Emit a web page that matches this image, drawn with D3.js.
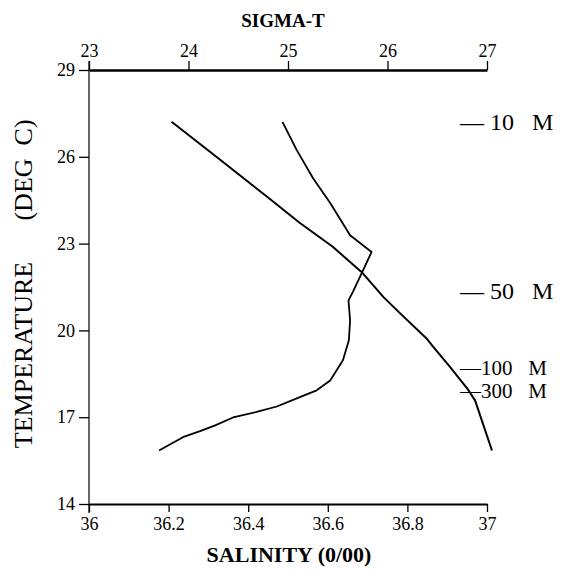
<!DOCTYPE html>
<html><head><meta charset="utf-8">
<script src="https://cdn.jsdelivr.net/npm/d3@7/dist/d3.min.js"></script>
<style>
html,body{margin:0;padding:0;background:#fff;}
svg{display:block;}
text{font-family:"Liberation Serif","Times New Roman",serif;fill:#000;}
</style></head>
<body>
<svg id="chart" width="566" height="581"></svg>
<script>
// ---- data ----
const sigmaTicks = [23, 24, 25, 26, 27];
const salinityTicks = [36, 36.2, 36.4, 36.6, 36.8, 37];
const tempTicks = [14, 17, 20, 23, 26, 29];

// sigma-t profile (sigma-t vs temperature)
const sigmaValues = [23.83, 24.28, 24.79, 25.12, 25.45, 25.75, 25.96, 26.13, 26.39, 26.46, 26.63, 26.80, 26.88, 27.05];
const sigmaTemps  = [27.21, 26.00, 24.62, 23.71, 22.89, 21.98, 21.15, 20.58, 19.73, 19.43, 18.73, 18.00, 17.58, 15.85];

// salinity profile (salinity vs temperature)
const salinityValues = [36.486, 36.522, 36.563, 36.606, 36.656, 36.710, 36.685, 36.663, 36.652, 36.656, 36.653, 36.638, 36.606, 36.572, 36.522, 36.472, 36.421, 36.362, 36.317, 36.279, 36.236, 36.176];
const salinityTemps  = [27.21, 26.23, 25.26, 24.40, 23.29, 22.71, 21.97, 21.33, 21.04, 20.35, 19.66, 18.97, 18.27, 17.93, 17.65, 17.37, 17.18, 16.99, 16.72, 16.52, 16.31, 15.85];

// depth markers
const depthLabels = ["\u2014 10   M", "\u2014 50   M", "\u2014100   M", "\u2014300   M"];
const depthTemps  = [27.12, 21.28, 18.62, 17.83];
const depthSizes  = [24, 24, 21, 21];

// ---- layout ----
const svg = d3.select("#chart");
const x0 = 89, x1 = 487, yTop = 70, yBot = 504;
const xSig = d3.scaleLinear().domain([23, 27]).range([x0, x1]);
const xSal = d3.scaleLinear().domain([36, 37]).range([x0, x1]);
const yT = d3.scaleLinear().domain([14, 29]).range([yBot, yTop]);
const fmt = d => String(+(+d).toFixed(1));

// top axis (sigma-t)
const gTop = svg.append("g").attr("transform", `translate(0,${yTop})`)
  .call(d3.axisTop(xSig).tickValues(sigmaTicks).tickFormat(fmt).tickSize(9).tickSizeOuter(0).tickPadding(4));
gTop.select(".domain").attr("stroke", "#000").attr("stroke-width", 2.4);
gTop.selectAll(".tick line").attr("stroke", "#000").attr("stroke-width", 1.3);
gTop.selectAll(".tick text").style("font-size", "18px").attr("font-family", null);

// bottom axis (salinity)
const gBot = svg.append("g").attr("transform", `translate(0,${yBot})`)
  .call(d3.axisBottom(xSal).tickValues(salinityTicks).tickFormat(fmt).tickSize(8).tickSizeOuter(0).tickPadding(5));
gBot.select(".domain").attr("stroke", "#000").attr("stroke-width", 2.2);
gBot.selectAll(".tick line").attr("stroke", "#000").attr("stroke-width", 1.3);
gBot.selectAll(".tick text").style("font-size", "18px").attr("font-family", null);

// left axis (temperature)
const gLeft = svg.append("g").attr("transform", `translate(${x0},0)`)
  .call(d3.axisLeft(yT).tickValues(tempTicks).tickSize(10).tickSizeOuter(0).tickPadding(4));
gLeft.select(".domain").attr("stroke", "none");
gLeft.selectAll(".tick line").attr("stroke", "#000").attr("stroke-width", 1.3);
gLeft.selectAll(".tick text").style("font-size", "18px").attr("font-family", null);
svg.append("line").attr("x1", x0).attr("x2", x0).attr("y1", yTop - 9).attr("y2", yBot + 9)
  .attr("stroke", "#000").attr("stroke-width", 1.2);

// curves
const lineSig = d3.line().x((d, i) => xSig(sigmaValues[i])).y((d, i) => yT(sigmaTemps[i]));
svg.append("path").datum(sigmaValues).attr("d", lineSig)
  .attr("fill", "none").attr("stroke", "#000").attr("stroke-width", 2).attr("stroke-linejoin", "round");
const lineSal = d3.line().x((d, i) => xSal(salinityValues[i])).y((d, i) => yT(salinityTemps[i]));
svg.append("path").datum(salinityValues).attr("d", lineSal)
  .attr("fill", "none").attr("stroke", "#000").attr("stroke-width", 1.8).attr("stroke-linejoin", "round");

// depth labels
svg.append("g").selectAll("text").data(depthLabels).join("text")
  .attr("x", 460).attr("y", (d, i) => yT(depthTemps[i]))
  .attr("dominant-baseline", "middle")
  .style("font-size", (d, i) => depthSizes[i] + "px").style("white-space", "pre")
  .text(d => d);

// titles
svg.append("text").attr("x", 283).attr("y", 27).attr("text-anchor", "middle")
  .style("font-size", "19px").style("font-weight", "bold").text("SIGMA-T");
svg.append("text").attr("x", 289).attr("y", 562).attr("text-anchor", "middle")
  .style("font-size", "22px").style("font-weight", "bold").text("SALINITY (0/00)");
svg.append("text").attr("transform", "translate(32,355) rotate(-90)").attr("text-anchor", "middle")
  .style("font-size", "26px").text("TEMPERATURE");
svg.append("text").attr("transform", "translate(32,170) rotate(-90)").attr("text-anchor", "middle")
  .style("font-size", "26px").style("white-space", "pre").text("(DEG  C)");
</script>
</body></html>
